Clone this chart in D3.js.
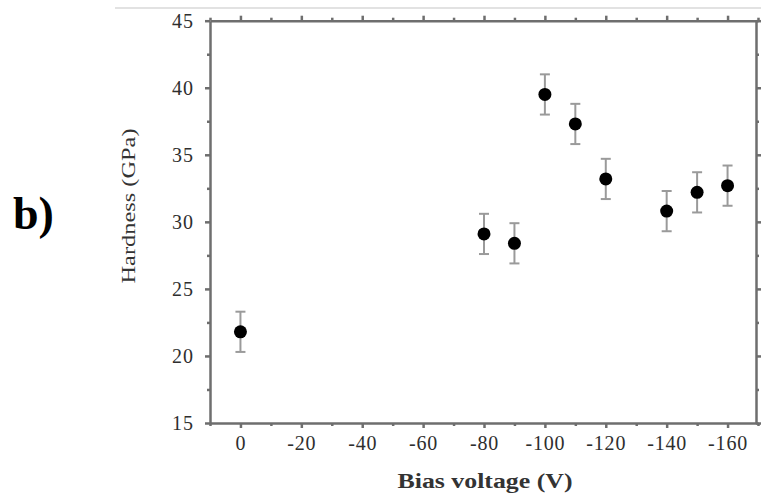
<!DOCTYPE html>
<html lang="en">
<head>
  <meta charset="UTF-8">
  <title>Hardness vs bias voltage</title>
  <script src="https://d3js.org/d3.v7.min.js"></script>
  <style>
    body {
      margin: 0;
      background: #fff;
    }

    .axis path,
    .axis line {
      stroke: #6e6e6e;
    }

    .axis text {
      font-family: "Liberation Serif", "Times New Roman", serif;
      fill: #2e2e2e;
    }
  </style>
</head>
<body>
  <div id="chart"></div>

  <script>
    const biasVoltage = [0, -80, -90, -100, -110, -120, -140, -150, -160];
    const hardness = [21.8, 29.1, 28.4, 39.5, 37.3, 33.2, 30.8, 32.2, 32.7];
    const hardnessErr = [1.5, 1.5, 1.5, 1.5, 1.5, 1.5, 1.5, 1.5, 1.5];

    const xTicks = [0, -20, -40, -60, -80, -100, -120, -140, -160];
    const yTicks = [15, 20, 25, 30, 35, 40, 45];

    const width = 761;
    const height = 495;
    const margin = { top: 20.7, right: 3, bottom: 72, left: 210 };

    const svg = d3.select('#chart')
                  .append('svg')
                  .attr('width', width)
                  .attr('height', height);

    const x = d3.scaleLinear()
                .domain([10, -170])
                .range([margin.left, width - margin.right]);

    const y = d3.scaleLinear()
                .domain([15, 45])
                .range([height - margin.bottom, margin.top]);

    // faint rule at the very top of the scan
    svg.append('line')
       .attr('x1', 115).attr('x2', width)
       .attr('y1', 8).attr('y2', 8)
       .attr('stroke', '#e2e2e2')
       .attr('stroke-width', 2);

    // minor ticks every 10 V / 2.5 GPa
    const xMinor = d3.range(10, -171, -10).filter(v => v % 20 !== 0);
    const yMinor = d3.range(17.5, 45, 5);

    function drawAxis(axisFn, scale, major, minor, tx, ty, labels) {
      const gMinor = svg.append('g')
         .attr('class', 'axis')
         .attr('transform', `translate(${tx},${ty})`)
         .call(axisFn(scale).tickValues(minor).tickSize(3).tickFormat(''));
      gMinor.select('.domain').remove();
      gMinor.selectAll('line').attr('stroke-width', 2.5);

      const g = svg.append('g')
         .attr('class', 'axis')
         .attr('transform', `translate(${tx},${ty})`)
         .call(axisFn(scale).tickValues(major).tickSize(5).tickSizeOuter(0)
               .tickPadding(8).tickFormat(labels ? d3.format('d') : ''));
      g.select('.domain').attr('stroke-width', 2.5);
      g.selectAll('.tick line').attr('stroke-width', 2.5);
      return g;
    }

    const xBottom = drawAxis(d3.axisBottom, x, xTicks, xMinor, 0, height - margin.bottom, true);
    xBottom.selectAll('text')
           .attr('font-size', 20)
           .attr('letter-spacing', 0.8)
           .text(d => d === 0 ? '0' : '-' + Math.abs(d));
    drawAxis(d3.axisTop, x, xTicks, xMinor, 0, margin.top, false);

    const yLeft = drawAxis(d3.axisLeft, y, yTicks, yMinor, margin.left, 0, true);
    yLeft.selectAll('text')
         .attr('font-size', 20)
         .attr('letter-spacing', 1)
         .attr('dx', -3);
    drawAxis(d3.axisRight, y, yTicks, yMinor, width - margin.right - 2, 0, false);

    // error bars
    const pts = biasVoltage.map((v, i) => ({ v: v, h: hardness[i], e: hardnessErr[i] }));
    const bars = svg.append('g')
                    .attr('stroke', '#9a9a9a')
                    .attr('stroke-width', 2);
    bars.selectAll('.stem')
        .data(pts).enter()
        .append('line')
        .attr('x1', d => x(d.v)).attr('x2', d => x(d.v))
        .attr('y1', d => y(d.h - d.e)).attr('y2', d => y(d.h + d.e));
    [-1, 1].forEach(s => {
      bars.selectAll('.cap' + s)
          .data(pts).enter()
          .append('line')
          .attr('x1', d => x(d.v) - 5).attr('x2', d => x(d.v) + 5)
          .attr('y1', d => y(d.h + s * d.e)).attr('y2', d => y(d.h + s * d.e));
    });

    // markers
    svg.append('g')
       .selectAll('circle')
       .data(pts).enter()
       .append('circle')
       .attr('cx', d => x(d.v))
       .attr('cy', d => y(d.h))
       .attr('r', 6.5)
       .attr('fill', '#000');

    // axis titles
    svg.append('text')
       .attr('x', 485).attr('y', 488)
       .attr('text-anchor', 'middle')
       .attr('font-family', '"Liberation Serif", serif')
       .attr('font-weight', 'bold')
       .attr('font-size', 20)
       .attr('fill', '#333')
       .attr('textLength', 175)
       .attr('lengthAdjust', 'spacingAndGlyphs')
       .text('Bias voltage (V)');

    svg.append('text')
       .attr('transform', 'translate(135,206) rotate(-90)')
       .attr('text-anchor', 'middle')
       .attr('font-family', '"Liberation Serif", serif')
       .attr('font-size', 18)
       .attr('fill', '#333')
       .attr('textLength', 155)
       .attr('lengthAdjust', 'spacingAndGlyphs')
       .text('Hardness (GPa)');

    // panel letter
    svg.append('text')
       .attr('x', 13).attr('y', 229)
       .attr('font-family', '"Liberation Serif", serif')
       .attr('font-weight', 'bold')
       .attr('font-size', 46)
       .attr('fill', '#000')
       .text('b)');
  </script>
</body>
</html>
